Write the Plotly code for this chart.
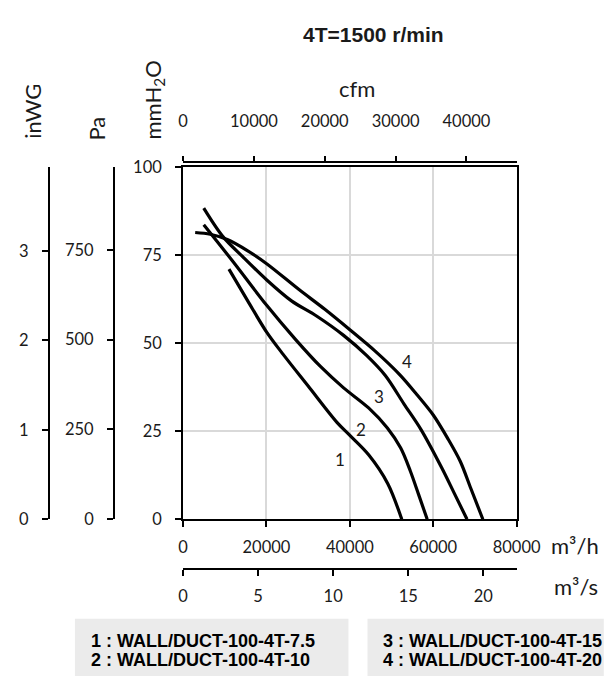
import plotly.graph_objects as go

# ---------------- data ----------------
title_text = "4T=1500 r/min"
curve_names = ["1 : WALL/DUCT-100-4T-7.5", "2 : WALL/DUCT-100-4T-10",
               "3 : WALL/DUCT-100-4T-15", "4 : WALL/DUCT-100-4T-20"]
curve_ids = ["1", "2", "3", "4"]

# airflow (m3/h) vs static pressure (mmH2O)
q1 = [11000, 15500, 20000, 24000, 30000, 36900, 40000, 44500, 49100, 52450]
p1 = [71.0, 62.0, 53.2, 46.8, 37.8, 27.5, 23.8, 18.3, 10.1, 0]
q2 = [4950, 12000, 20000, 27000, 33000, 38500, 44500, 49000, 52200, 54500, 56500, 58550]
p2 = [83.6, 73.1, 60.8, 51.0, 43.3, 37.3, 31.6, 25.9, 20.2, 13.7, 7.0, 0]
q3 = [4950, 9500, 14500, 20000, 26000, 32000, 38500, 44000, 48500, 53000, 57000, 62000, 65000, 68100]
p3 = [88.3, 80.3, 74.3, 68.0, 62.0, 57.7, 52.2, 46.5, 40.8, 32.7, 25.6, 14.7, 7.5, 0]
q4 = [2900, 6500, 10600, 15500, 20200, 27800, 34000, 40000, 46000, 52000, 56000, 60000, 63500, 66500, 69000, 71900]
p4 = [81.4, 80.9, 79.4, 76.2, 72.4, 65.2, 59.6, 53.8, 47.8, 41.0, 35.5, 29.6, 22.9, 16.4, 8.8, 0]

# label positions for curve numbers (m3/h, mmH2O)
label_q = [37670, 42790, 47040, 53670]
label_p = [16.9, 25.5, 34.8, 44.8]

# axis ticks
m3h_ticks = [0, 20000, 40000, 60000, 80000]
mmh2o_ticks = [0, 25, 50, 75, 100]
pa_ticks = [0, 250, 500, 750]
inwg_ticks = [0, 1, 2, 3]
cfm_ticks = [0, 10000, 20000, 30000, 40000]
m3s_ticks = [0, 5, 10, 15, 20]

Q_MAX = 80000
P_MAX = 100
PA_PER_MM = 9.80665
INWG_PER_MM = 1 / 25.4
CFM_PER_M3H = 1 / 1.69901
M3S_PER_M3H = 1 / 3600

# ---------------- layout helpers ----------------
W, H = 616, 678
def px(x):
    return x / W
def py(y):
    return 1 - y / H

X0, X1 = 178.5, 528.5
Y0, Y1 = 516.5, 153.5

tick_font = dict(family="Lato", size=16.5, color="#1a1a1a")
title_font = dict(family="Lato", size=22, color="#1a1a1a")

fig = go.Figure()
for q, p in [(q1, p1), (q2, p2), (q3, p3), (q4, p4)]:
    fig.add_trace(go.Scatter(x=q, y=p, mode="lines",
                             line=dict(color="black", width=3.2, shape="spline", smoothing=0.9),
                             showlegend=False, hoverinfo="skip"))

# invisible anchors so the secondary unit axes are drawn
for xa, ya in [("x2", "y"), ("x3", "y"), ("x", "y2"), ("x", "y3")]:
    fig.add_trace(go.Scatter(x=[0], y=[0], xaxis=xa, yaxis=ya, mode="markers",
                             marker=dict(opacity=0, size=1), showlegend=False,
                             hoverinfo="skip"))

for cid, lq, lp in zip(curve_ids, label_q, label_p):
    fig.add_annotation(x=lq, y=lp, xref="x", yref="y", text=cid, showarrow=False,
                       font=dict(family="Lato", size=17, color="#1a1a1a"))

axis_common = dict(showline=True, linecolor="black", linewidth=2, ticks="outside",
                   tickcolor="black", tickwidth=2, ticklen=6, tickfont=tick_font,
                   zeroline=False, fixedrange=True)

fig.update_layout(
    width=W, height=H, autosize=False,
    margin=dict(l=0, r=0, t=0, b=0),
    paper_bgcolor="white", plot_bgcolor="white",
    xaxis=dict(domain=[px(X0), px(X1)], range=[0, Q_MAX],
               tickvals=m3h_ticks, ticktext=[str(v) for v in m3h_ticks],
               showgrid=True, gridcolor="#d9d9d9", gridwidth=1.5,
               mirror=True, ticklabelstandoff=6, **axis_common),
    yaxis=dict(domain=[py(Y0), py(Y1)], range=[0, P_MAX],
               tickvals=mmh2o_ticks, ticktext=[str(v) for v in mmh2o_ticks],
               showgrid=True, gridcolor="#d9d9d9", gridwidth=1.5,
               mirror=True, ticklabelstandoff=10, **axis_common),
    yaxis2=dict(overlaying="y", anchor="free", position=px(106), side="left",
                range=[0, P_MAX * PA_PER_MM], tickvals=pa_ticks,
                ticktext=[str(v) for v in pa_ticks], showgrid=False,
                ticklabelstandoff=10, **axis_common),
    yaxis3=dict(overlaying="y", anchor="free", position=px(37.7), side="left",
                range=[0, P_MAX * INWG_PER_MM], tickvals=inwg_ticks,
                ticktext=[str(v) for v in inwg_ticks], showgrid=False,
                ticklabelstandoff=10, **axis_common),
    xaxis2=dict(overlaying="x", anchor="free", position=py(148.3), side="top",
                range=[0, Q_MAX * CFM_PER_M3H], tickvals=cfm_ticks,
                ticktext=[str(v) for v in cfm_ticks], showgrid=False,
                ticklabelstandoff=22, **{**axis_common, "ticklen": 5}),
    xaxis3=dict(overlaying="x", anchor="free", position=py(568), side="bottom",
                range=[0, Q_MAX * M3S_PER_M3H], tickvals=m3s_ticks,
                ticktext=[str(v) for v in m3s_ticks], showgrid=False,
                ticklabelstandoff=6, **axis_common),
)

# axis titles
def ann(text, x, y, angle=0, font=title_font, xanchor="center"):
    fig.add_annotation(x=px(x), y=py(y), xref="paper", yref="paper", text=text,
                       showarrow=False, textangle=angle, font=font, xanchor=xanchor,
                       yanchor="middle")

ann(title_text, 378, 16.7, font=dict(family="Liberation Sans", size=21, color="#1a1a1a", weight="bold"))
ann("inWG", 20.6, 96, angle=-90)
ann("Pa", 88, 114, angle=-90)
ann("mmH<sub>2</sub>O", 148, 85, angle=-90)
ann("cfm", 360.5, 72.5)
ann("m³/h", 563, 544, xanchor="left")
ann("m³/s", 566, 586, xanchor="left")

# legend boxes
fig.add_shape(type="rect", xref="paper", yref="paper", x0=px(65), x1=px(352),
              y0=py(678), y1=py(619), fillcolor="#ebebeb", line=dict(width=0), layer="below")
fig.add_shape(type="rect", xref="paper", yref="paper", x0=px(372), x1=px(620),
              y0=py(678), y1=py(619), fillcolor="#ebebeb", line=dict(width=0), layer="below")
legend_font = dict(family="Liberation Sans", size=18, color="black", weight="bold")
ann(curve_names[0], 79.3, 641.7, font=legend_font, xanchor="left")
ann(curve_names[1], 79.3, 661.7, font=legend_font, xanchor="left")
ann(curve_names[2], 386, 641.7, font=legend_font, xanchor="left")
ann(curve_names[3], 386, 661.7, font=legend_font, xanchor="left")

fig.write_html("out.html")
